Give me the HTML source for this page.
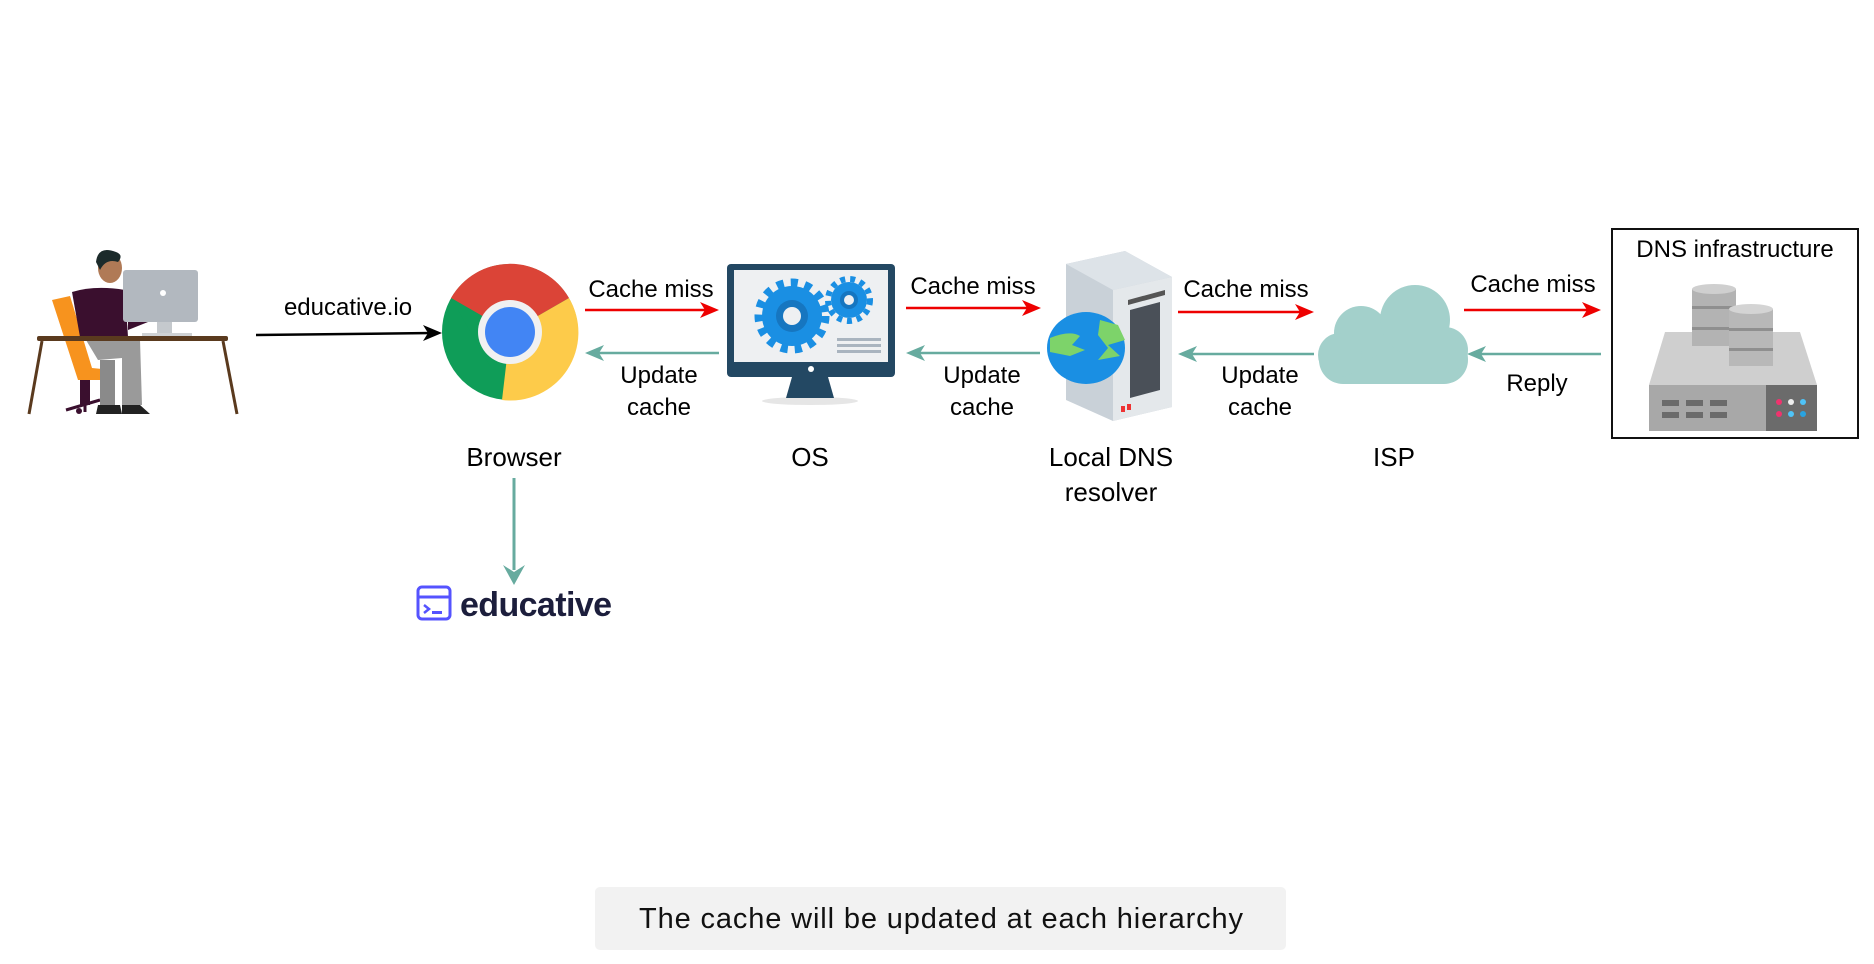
<!DOCTYPE html>
<html><head><meta charset="utf-8"><style>
html,body{margin:0;padding:0;background:#fff;}
svg{display:block;}
text{font-family:"Liberation Sans",Arial,sans-serif;}
</style></head><body>
<svg width="1874" height="964" viewBox="0 0 1874 964" xmlns="http://www.w3.org/2000/svg">
<!-- person -->
<g>
<polygon points="52,300 70,296 92,368 112,370 112,380 78,380" fill="#f7931e"/>
<rect x="80" y="380" width="10" height="25" fill="#3a0f2e"/>
<path d="M66,410 L100,400 M85,400 L85,412" stroke="#3a0f2e" stroke-width="3"/>
<circle cx="79" cy="411" r="3" fill="#3a0f2e"/>
<path d="M72,292 Q95,285 125,290 L128,337 L80,337 Z" fill="#3a0f2e"/>
<path d="M128,315 L148,322 L128,330 Z" fill="#3a0f2e"/>
<ellipse cx="110" cy="268" rx="12" ry="15" fill="#b07a56"/>
<path d="M96,262 Q98,245 116,252 Q124,255 118,262 Q106,258 100,270 Z" fill="#1c2b2b"/>
<path d="M86,340 L140,340 L142,405 L122,405 L122,358 L98,360 Z" fill="#9a9a9a"/>
<rect x="100" y="360" width="15" height="45" fill="#8a8a8a"/>
<path d="M98,405 L120,405 L122,414 L96,414 Z M122,405 L140,405 L150,414 L122,414 Z" fill="#222"/>
<rect x="123" y="270" width="75" height="52" rx="3" fill="#b2b8bf"/>
<circle cx="163" cy="293" r="3" fill="#fff"/>
<rect x="157" y="322" width="15" height="12" fill="#c5c9cd"/>
<rect x="142" y="333" width="50" height="3" fill="#cfd2d5"/>
<rect x="37" y="336" width="191" height="5" rx="2" fill="#5a3a1e"/>
<path d="M42,341 L29,414 M223,341 L237,414" stroke="#5a3a1e" stroke-width="3"/>
</g>
<!-- educative.io arrow -->
<line x1="256" y1="335" x2="432" y2="333" stroke="#000" stroke-width="2.5"/>
<polygon points="423,325 442,333 423,341 428,333" fill="#000"/>
<text x="348" y="315" font-size="24" text-anchor="middle">educative.io</text>
<!-- Chrome -->
<g transform="translate(510,332)">
<circle r="68" fill="#0f9d58"/>
<path d="M0,0 L-59,-34 A68,68 0 0 1 59,-34 Z" fill="#db4437"/>
<path d="M0,0 L59,-34 A68,68 0 0 1 -8,68 Z" fill="#fdcb4a"/>
<path d="M0,0 L-59,-34 L-20,34 Z" fill="#0f9d58"/>
<circle r="32" fill="#f1f1f1"/>
<circle r="25" fill="#4285f4"/>
</g>
<text x="514" y="466" font-size="26" text-anchor="middle">Browser</text>
<line x1="514" y1="478" x2="514" y2="570" stroke="#67ab9f" stroke-width="3"/>
<polygon points="503,565 514,585 525,565 514,572" fill="#67ab9f"/>
<!-- educative logo -->
<rect x="418" y="587" width="32" height="32" rx="4" fill="none" stroke="#5553ff" stroke-width="3"/>
<line x1="418" y1="597" x2="450" y2="597" stroke="#5553ff" stroke-width="3"/>
<path d="M424,605 L429,609 L424,613" stroke="#5553ff" stroke-width="2.5" fill="none"/>
<rect x="432" y="611" width="10" height="3" fill="#5553ff"/>
<text x="460" y="616" font-size="34" font-weight="bold" fill="#1c1e3c" textLength="152">educative</text>
<!-- arrows -->
<g stroke-width="2.5">
<line x1="585" y1="310" x2="710" y2="310" stroke="#e00"/>
<line x1="906" y1="308" x2="1032" y2="308" stroke="#e00"/>
<line x1="1178" y1="312" x2="1305" y2="312" stroke="#e00"/>
<line x1="1464" y1="310" x2="1592" y2="310" stroke="#e00"/>
<line x1="719" y1="353" x2="594" y2="353" stroke="#67ab9f"/>
<line x1="1040" y1="353" x2="915" y2="353" stroke="#67ab9f"/>
<line x1="1314" y1="354" x2="1187" y2="354" stroke="#67ab9f"/>
<line x1="1601" y1="354" x2="1476" y2="354" stroke="#67ab9f"/>
</g>
<g fill="#e00">
<polygon points="700,302 719,310 700,318 705,310"/>
<polygon points="1022,300 1041,308 1022,316 1027,308"/>
<polygon points="1295,304 1314,312 1295,320 1300,312"/>
<polygon points="1582,302 1601,310 1582,318 1587,310"/>
</g>
<g fill="#67ab9f">
<polygon points="604,345 585,353 604,361 599,353"/>
<polygon points="925,345 906,353 925,361 920,353"/>
<polygon points="1197,346 1178,354 1197,362 1192,354"/>
<polygon points="1486,346 1467,354 1486,362 1481,354"/>
</g>
<g font-size="24" text-anchor="middle">
<text x="651" y="297">Cache miss</text>
<text x="973" y="294">Cache miss</text>
<text x="1246" y="297">Cache miss</text>
<text x="1533" y="292">Cache miss</text>
<text x="659" y="383">Update</text><text x="659" y="415">cache</text>
<text x="982" y="383">Update</text><text x="982" y="415">cache</text>
<text x="1260" y="383">Update</text><text x="1260" y="415">cache</text>
<text x="1537" y="391">Reply</text>
</g>
<!-- OS monitor -->
<g>
<ellipse cx="810" cy="401" rx="48" ry="4" fill="#e6e6e6"/>
<polygon points="792,377 828,377 834,398 786,398" fill="#234863"/>
<rect x="727" y="264" width="168" height="113" rx="4" fill="#234863"/>
<rect x="734" y="270" width="154" height="92" fill="#eef0f2"/>
<circle cx="811" cy="369" r="3" fill="#fff"/>
<g fill="#1a8fe3">
<circle cx="792" cy="316" r="30"/>
<circle cx="849" cy="300" r="18"/>
</g>
<g stroke="#1a8fe3" stroke-width="9" stroke-dasharray="7,7">
<circle cx="792" cy="316" r="33" fill="none"/>
</g>
<g stroke="#1a8fe3" stroke-width="6" stroke-dasharray="5,5">
<circle cx="849" cy="300" r="21" fill="none"/>
</g>
<circle cx="792" cy="316" r="16" fill="#1676c0"/><circle cx="792" cy="316" r="9" fill="#eef0f2"/>
<circle cx="849" cy="300" r="9" fill="#1676c0"/><circle cx="849" cy="300" r="5" fill="#eef0f2"/>
<g fill="#a9b4bf"><rect x="837" y="338" width="44" height="3"/><rect x="837" y="344" width="44" height="3"/><rect x="837" y="350" width="44" height="3"/></g>
</g>
<text x="810" y="466" font-size="26" text-anchor="middle">OS</text>
<!-- Local DNS server -->
<g>
<polygon points="1066,264 1125,251 1172,277 1172,407 1113,421 1066,400" fill="#c9d1d8"/>
<polygon points="1066,264 1125,251 1172,277 1113,290" fill="#dde3e8"/>
<polygon points="1113,290 1172,277 1172,407 1113,421" fill="#e4e8eb"/>
<polygon points="1128,300 1165,290 1165,295 1128,305" fill="#555"/>
<polygon points="1130,310 1160,302 1160,390 1130,398" fill="#4a5058"/>
<rect x="1121" y="406" width="4" height="6" fill="#e33"/><rect x="1127" y="404" width="4" height="6" fill="#e33"/>
<ellipse cx="1086" cy="348" rx="39" ry="36" fill="#1a8fe3"/>
<path d="M1050,338 Q1070,330 1080,336 L1072,345 L1085,350 L1070,356 L1050,352 Z M1100,320 L1118,325 L1125,340 L1108,345 L1120,356 L1098,360 L1108,348 L1098,335 Z" fill="#7dd36a"/>
</g>
<text x="1111" y="466" font-size="26" text-anchor="middle">Local DNS</text>
<text x="1111" y="501" font-size="26" text-anchor="middle">resolver</text>
<!-- Cloud -->
<g fill="#a3d0cb">
<rect x="1319" y="335" width="149" height="49" rx="24"/>
<circle cx="1361" cy="333" r="27"/>
<circle cx="1415" cy="320" r="35"/>
<circle cx="1445" cy="350" r="23"/>
<circle cx="1340" cy="355" r="22"/>
</g>
<text x="1394" y="466" font-size="26" text-anchor="middle">ISP</text>
<!-- DNS infra box -->
<rect x="1612" y="229" width="246" height="209" fill="#fff" stroke="#111" stroke-width="2"/>
<text x="1735" y="257" font-size="24" text-anchor="middle">DNS infrastructure</text>
<g>
<polygon points="1665,332 1800,332 1817,385 1649,385" fill="#cfcfcf"/>
<rect x="1649" y="385" width="168" height="46" fill="#a8a8a8"/>
<rect x="1766" y="385" width="51" height="46" fill="#6b6b6b"/>
<g fill="#6b6b6b"><rect x="1662" y="400" width="17" height="6"/><rect x="1686" y="400" width="17" height="6"/><rect x="1710" y="400" width="17" height="6"/><rect x="1662" y="412" width="17" height="6"/><rect x="1686" y="412" width="17" height="6"/><rect x="1710" y="412" width="17" height="6"/></g>
<g><circle cx="1779" cy="402" r="3" fill="#f0336e"/><circle cx="1791" cy="402" r="3" fill="#eee"/><circle cx="1803" cy="402" r="3" fill="#4fc3f7"/><circle cx="1779" cy="414" r="3" fill="#f0336e"/><circle cx="1791" cy="414" r="3" fill="#4fc3f7"/><circle cx="1803" cy="414" r="3" fill="#29a3e0"/></g>
<rect x="1692" y="289" width="44" height="57" fill="#b3b3b3"/>
<ellipse cx="1714" cy="289" rx="22" ry="5" fill="#cfcfcf"/>
<rect x="1692" y="306" width="44" height="3" fill="#8f8f8f"/><rect x="1692" y="327" width="44" height="3" fill="#8f8f8f"/>
<rect x="1729" y="309" width="44" height="57" fill="#b8b8b8"/>
<ellipse cx="1751" cy="309" rx="22" ry="5" fill="#d4d4d4"/>
<rect x="1729" y="328" width="44" height="3" fill="#8f8f8f"/><rect x="1729" y="348" width="44" height="3" fill="#8f8f8f"/>
</g>
<!-- bottom caption -->
<rect x="595" y="887" width="691" height="63" rx="5" fill="#f2f2f2"/>
<text x="941" y="928" font-size="29" text-anchor="middle" fill="#111" textLength="604">The cache will be updated at each hierarchy</text>
</svg>
</body></html>
